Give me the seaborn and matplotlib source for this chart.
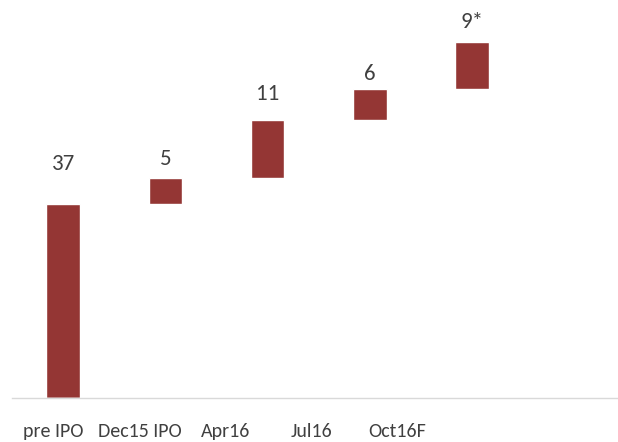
import numpy as np
import pandas as pd
import matplotlib
matplotlib.use("Agg")
import matplotlib.pyplot as plt
import seaborn as sns

# Daten
categories = ["pre IPO", "Dec15 IPO", "Apr16", "Jul16", "Oct16F"]
increments = [37, 5, 11, 6, 9]
value_labels = ["37", "5", "11", "6", "9*"]

# Wasserfall: Basis + Oberkante
tops = np.cumsum(increments)
bases = tops - np.array(increments)
df = pd.DataFrame({"cat": categories, "top": tops, "base": bases})

sns.set_style("white")
plt.rcParams["font.family"] = ["Carlito", "Open Sans", "DejaVu Sans"]

bar_color = "#943634"
text_color = "#404040"

fig = plt.figure(figsize=(6.18, 4.42), dpi=100)
# Achse bewusst etwas breiter als das Bild (6 Slots, Rand rechts abgeschnitten)
ax = fig.add_axes([12 / 618, 44 / 442, 613.5 / 618, 398 / 442])

sns.barplot(data=df, x="cat", y="top", color=bar_color, width=0.33,
            saturation=1, ax=ax, zorder=1)
# weiße Basis-Balken verdecken den unteren Teil
sns.barplot(data=df, x="cat", y="base", color="white", width=0.35,
            saturation=1, ax=ax, zorder=1.5)

ax.set_xlim(-0.5, 5.5)
ax.set_ylim(0, 76.0)

# Werte-Beschriftung (Abstand in Pixeln)
label_gap = [34, 13, 20, 9, 14]
for i, (t, lab) in enumerate(zip(tops, value_labels)):
    ax.annotate(lab, (i, t), xytext=(0, label_gap[i]), textcoords="offset pixels",
                ha="center", va="baseline", fontsize=16.5, color=text_color)

# Kategorie-Beschriftungen liegen im Original enger zusammen als die Balken
tick_step = 86 / 102.25
tick_pos = [-0.093 + i * tick_step for i in range(len(categories))]
ax.set_xticks(tick_pos)
ax.set_xticklabels(categories, fontsize=14.4, color=text_color)
ax.tick_params(axis="x", length=0, pad=18)
ax.set_yticks([])
ax.set_xlabel("")
ax.set_ylabel("")

for s in ["top", "right", "left"]:
    ax.spines[s].set_visible(False)
ax.spines["bottom"].set_color("#d9d9d9")
ax.spines["bottom"].set_linewidth(1.0)
ax.spines["bottom"].set_zorder(3)

fig.savefig("out.png", dpi=100)
